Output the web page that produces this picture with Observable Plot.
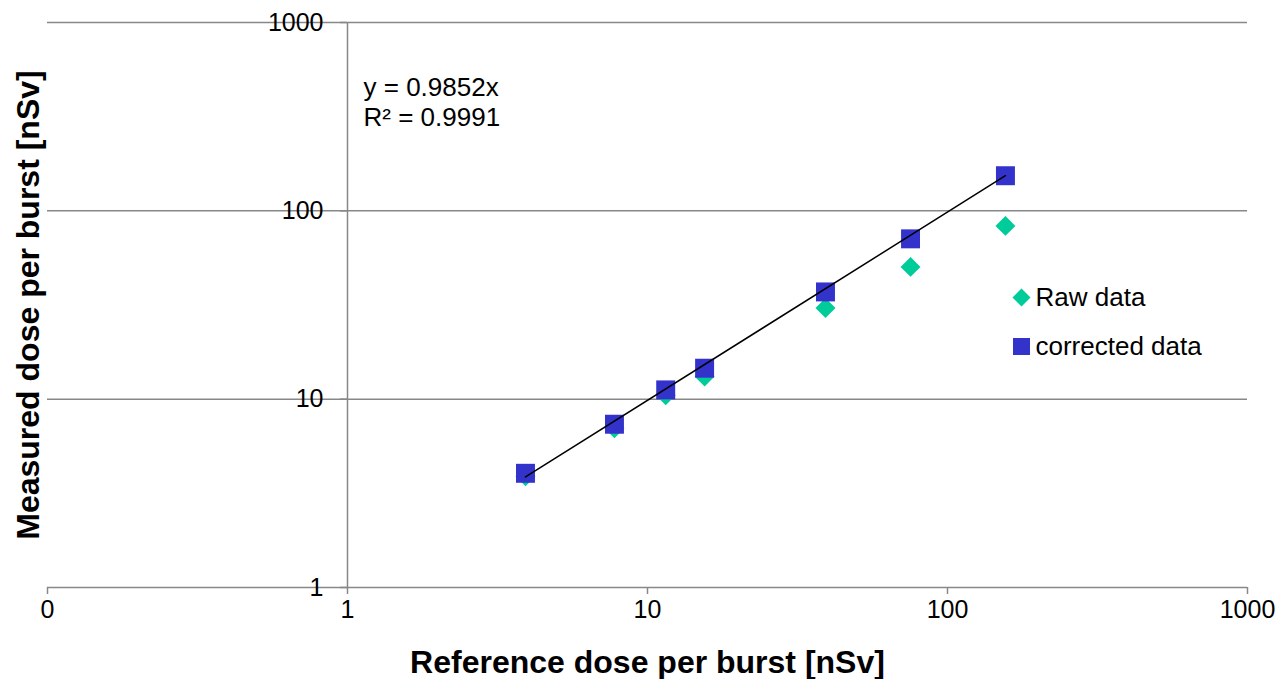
<!DOCTYPE html>
<html>
<head>
<meta charset="utf-8">
<script src="https://cdn.jsdelivr.net/npm/d3@7"></script>
<script src="https://cdn.jsdelivr.net/npm/@observablehq/plot@0.6"></script>
<style>
  html, body { margin: 0; padding: 0; background: #ffffff; }
  #chart { width: 1281px; height: 679px; }
</style>
</head>
<body>
<div id="chart"></div>
<script>
// ---- data ----
const refDose = [3.92, 7.76, 11.5, 15.5, 39.2, 75.3, 156];
const rawDose = [3.9, 7.0, 10.5, 13.2, 30.5, 50.4, 83.2];
const correctedDose = [4.04, 7.36, 11.2, 14.6, 37.1, 71.0, 153.6];
const seriesNames = ["Raw data", "corrected data"];
const fitSlope = 0.9852;
const fitR2 = 0.9991;
const xTicks = [0.1, 1, 10, 100, 1000];
const xTickLabels = ["0", "1", "10", "100", "1000"];
const yTicks = [1, 10, 100, 1000];
const yTickLabels = ["1", "10", "100", "1000"];
const yAxisCrossesAt = 1;
const xTitle = "Reference dose per burst [nSv]";
const yTitle = "Measured dose per burst [nSv]";

// ---- styles ----
const gridColor = "#888888";
const rawColor = "#00CC99";
const corrColor = "#3333CC";
const font = "'Liberation Sans', Arial, sans-serif";

const rawPts = refDose.map((x, i) => ({x, y: rawDose[i]}));
const corrPts = refDose.map((x, i) => ({x, y: correctedDose[i]}));
const xmin = d3.min(refDose), xmax = d3.max(refDose);
const fitPts = [xmin, xmax].map(x => ({x, y: fitSlope * x}));
const yLabelData = yTicks.map((v, i) => ({x: yAxisCrossesAt, y: v, label: yTickLabels[i]}));

const chart = Plot.plot({
  width: 1281,
  height: 679,
  marginLeft: 47,
  marginRight: 34,
  marginTop: 22,
  marginBottom: 92,
  style: {fontFamily: font, fontSize: "25px", background: "#ffffff", color: "#000"},
  x: {type: "log", domain: [0.1, 1000], axis: null},
  y: {type: "log", domain: [1, 1000], axis: null},
  marks: [
    // horizontal gridlines (bottom one is the x axis line)
    Plot.ruleY(yTicks, {stroke: gridColor, strokeWidth: 1.5}),
    // vertical y-axis line at x = 1
    Plot.ruleX([yAxisCrossesAt], {stroke: gridColor, strokeWidth: 1.5}),
    // y tick marks
    Plot.ruleY(yTicks, {x1: yAxisCrossesAt, x2: yAxisCrossesAt, insetLeft: -7, stroke: gridColor, strokeWidth: 1.5}),
    // y tick labels
    Plot.text(yLabelData, {x: "x", y: "y", text: "label", dx: -24, textAnchor: "end", lineAnchor: "middle", fontSize: 25, fill: "#000"}),
    // x axis ticks + labels
    Plot.axisX({
      ticks: xTicks,
      tickFormat: d => xTickLabels[xTicks.indexOf(d)],
      tickSize: 7,
      tickPadding: 6,
      stroke: gridColor,
      strokeWidth: 1.5,
      fontSize: 25,
      fill: "#000",
      label: null
    }),
    // data
    Plot.dot(rawPts, {x: "x", y: "y", symbol: "diamond2", r: 9, fill: rawColor, stroke: null}),
    Plot.dot(corrPts, {x: "x", y: "y", symbol: "square", r: 10.7, fill: corrColor, stroke: null}),
    Plot.line(fitPts, {x: "x", y: "y", stroke: "#000", strokeWidth: 1.5}),
    // equation
    Plot.text([`y = ${fitSlope}x`], {frameAnchor: "top-left", dx: 316, dy: 65, textAnchor: "start", lineAnchor: "middle", fontSize: 26, fill: "#000"}),
    Plot.text([`R² = ${fitR2}`], {frameAnchor: "top-left", dx: 316, dy: 95, textAnchor: "start", lineAnchor: "middle", fontSize: 26, fill: "#000"}),
    // legend
    Plot.dot([seriesNames[0]], {frameAnchor: "top-left", dx: 974, dy: 275, symbol: "diamond2", r: 8.1, fill: rawColor}),
    Plot.text([seriesNames[0]], {frameAnchor: "top-left", dx: 988, dy: 275, textAnchor: "start", lineAnchor: "middle", fontSize: 26, fill: "#000"}),
    Plot.dot([seriesNames[1]], {frameAnchor: "top-left", dx: 974, dy: 324, symbol: "square", r: 9.6, fill: corrColor}),
    Plot.text([seriesNames[1]], {frameAnchor: "top-left", dx: 988, dy: 324, textAnchor: "start", lineAnchor: "middle", fontSize: 26, fill: "#000"}),
    // axis titles
    Plot.text([xTitle], {frameAnchor: "bottom", dy: 75, textAnchor: "middle", lineAnchor: "middle", fontSize: 32, fontWeight: "bold", fill: "#000"}),
    Plot.text([yTitle], {frameAnchor: "left", dx: -19, rotate: -90, textAnchor: "middle", lineAnchor: "middle", fontSize: 32, fontWeight: "bold", fill: "#000"})
  ]
});
document.getElementById("chart").appendChild(chart);
</script>
</body>
</html>
